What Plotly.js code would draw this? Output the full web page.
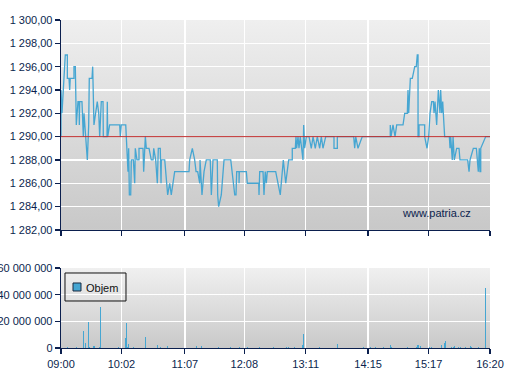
<!DOCTYPE html>
<html>
<head>
<meta charset="utf-8">
<script src="https://cdn.plot.ly/plotly-3.0.1.min.js"></script>
<style>
html,body{margin:0;padding:0;background:#fff;}
#chart{width:507px;height:380px;}
</style>
</head>
<body>
<div id="chart"></div>
<script>
// ---- data ----
// price: minutes after 09:00, trade price
var priceTime = [0,0,1.0,4.4,6.5,6.5,8.2,8.9,9.5,13.3,13.3,14.7,15.7,17.4,18.5,18.8,19.2,21.5,21.8,22.9,23.6,27.0,28.4,29.0,31.8,32.5,33.8,37.2,38.7,39.7,41.3,43.1,43.4,47.2,47.5,47.9,49.9,60.2,60.8,61.8,66.4,67.0,68.7,69.4,70.1,71.5,72.1,74.2,74.9,75.6,76.2,77.9,80.0,80.0,84.1,84.8,86.5,87.5,90.3,92.6,94.4,95.1,97.1,98.8,99.8,101.8,102.6,102.9,106.4,109.4,111.5,113.1,116.6,131.3,132.0,134.7,137.1,138.5,140.2,142.3,142.6,144.6,146.7,149.0,153.1,154.2,155.9,160.3,160.7,161.7,164.4,167.2,174.1,178.2,179.5,180.2,182.6,182.6,182.9,190.1,191.1,202.8,203.1,203.8,207.2,208.2,209.5,210.6,211.6,220.2,224.9,228.0,230.5,233.5,237.2,237.2,240.3,241.0,241.7,243.1,244.1,245.4,248.2,248.9,249.9,251.6,254.4,256.7,258.5,260.8,262.9,265.3,267.0,268.7,271.5,280.0,280.0,283.4,283.4,300.2,301.2,302.3,304.6,309.0,337.7,337.7,338.5,340.5,342.6,344.3,350.8,352.5,355.2,355.9,356.6,358.3,360.3,362.8,364.4,365.4,366.2,366.2,367.2,367.2,373.0,373.0,375.4,377.1,378.5,380.2,381.9,382.6,383.6,385.3,387.0,388.7,389.4,390.5,391.5,392.8,393.5,398.3,399.0,399.7,400.7,401.3,402.1,403.4,405.8,408.2,409.2,417.1,418.5,419.5,422.9,426.0,428.0,429.0,429.7,430.5,430.5,435.6,440.0];
var priceValue = [1290,1294,1292,1297,1297,1295,1295,1294,1295,1295,1296,1296,1291,1293,1293,1291,1293,1293,1292,1290,1292,1288,1291,1295,1295,1296,1291,1293,1292,1290,1293,1293,1290,1290,1293,1290,1291,1291,1290,1291,1291,1290,1287,1289,1285,1285,1288,1288,1286,1286,1289,1288,1288,1289,1289,1287,1290,1289,1289,1288,1288,1289,1288,1286,1289,1289,1286,1288,1288,1285,1286,1285,1287,1287,1288,1289,1288,1287,1287,1286,1288,1285,1287,1288,1288,1285,1288,1288,1285,1284,1285,1288,1288,1285,1285,1287,1287,1286,1287,1287,1286,1286,1285,1287,1287,1285,1287,1286,1287,1287,1285,1288,1286,1288,1288,1289,1289,1290,1289,1290,1289,1290,1288,1291,1289,1290,1290,1289,1290,1289,1290,1289,1290,1289,1290,1290,1289,1289,1290,1290,1289,1290,1289,1290,1290,1291,1290,1291,1290,1291,1291,1292,1292,1294,1292,1295,1295,1296,1296,1297,1297,1290,1290,1291,1291,1290,1289,1290,1292,1293,1293,1292,1293,1291,1294,1292,1294,1292,1293,1291,1290,1290,1289,1290,1288,1288,1290,1288,1289,1289,1288,1288,1287,1288,1289,1289,1287,1289,1287,1287,1289,1290,1290];
// volume: minutes after 09:00, traded volume
var volumeTime = [0,6.5,16.1,22.9,25.0,28.0,29.1,33.5,34.5,39.3,40.3,58.8,61.5,66.0,67.0,68.0,69.1,74.2,86.5,98.8,101.9,109.1,139.2,144.0,161.4,173.7,182.9,187.7,191.1,203.4,217.8,231.5,233.2,239.3,247.5,248.5,265.0,283.4,285.1,310.1,317.6,322.7,330.6,337.8,338.8,355.2,364.4,365.5,366.5,368.5,378.1,380.2,390.1,393.2,394.2,400.3,402.4,403.4,407.5,409.6,414.7,419.8,420.9,428.0,435.2];
var volumeValue = [500000,500000,500000,12900000,3800000,19700000,800000,1500000,1500000,500000,30400000,800000,800000,7600000,19000000,1000000,3000000,500000,8300000,2300000,800000,1500000,1500000,1500000,500000,500000,500000,800000,800000,500000,500000,500000,500000,500000,2300000,10600000,500000,3000000,800000,800000,500000,500000,500000,2300000,800000,500000,1000000,2300000,2300000,1500000,500000,500000,2300000,3800000,5300000,800000,1000000,1500000,800000,800000,800000,1500000,800000,500000,44800000];
var referencePrice = 1290;
var timeLabels = ['09:00','10:02','11:07','12:08','13:11','14:15','15:17','16:20'];
var priceTicks = [1282,1284,1286,1288,1290,1292,1294,1296,1298,1300];
var volumeTicks = [0,20000000,40000000,60000000];
var volumeName = 'Objem';
var sourceText = 'www.patria.cz';

// ---- helpers ----
function toMinutes(s){var p=s.split(':');return (parseInt(p[0],10)-9)*60+parseInt(p[1],10);}
var timeTicks = timeLabels.map(toMinutes);

function gradient(top,bottom){
  var svg="<svg xmlns='http://www.w3.org/2000/svg' width='10' height='100' preserveAspectRatio='none'><defs><linearGradient id='g' x1='0' y1='0' x2='0' y2='1'><stop offset='0' stop-color='"+top+"'/><stop offset='1' stop-color='"+bottom+"'/></linearGradient></defs><rect width='10' height='100' fill='url(#g)'/></svg>";
  return 'data:image/svg+xml;charset=utf-8,'+encodeURIComponent(svg);
}

var navy = '#0b1f4e';
var blue = '#46a6d2';
var fam = 'Liberation Sans, Arial, sans-serif';
var font = {family:fam, size:11, color:navy};

var traces = [
  {x:priceTime, y:priceValue, type:'scatter', mode:'lines', xaxis:'x', yaxis:'y',
   line:{color:blue, width:1.3}, showlegend:false, hoverinfo:'x+y'},
  {x:volumeTime, y:volumeValue, type:'bar', xaxis:'x2', yaxis:'y2', name:volumeName,
   width:0.9, marker:{color:blue, line:{width:0}}, showlegend:false}
];

var axisCommon = {
  showline:true, linecolor:navy, linewidth:1.3,
  ticks:'outside', ticklen:5, tickcolor:navy, tickwidth:1.3,
  showgrid:true, gridcolor:'#ffffff', gridwidth:1.5,
  zeroline:false, tickfont:font, automargin:false, fixedrange:true
};

// legend box geometry (paper fractions)
var lg = {x0:0.0093, x1:0.1515, y0:0.1433, y1:0.2287, sx0:0.028, sx1:0.0466, sy0:0.1738, sy1:0.1982, tx:0.0536, ty:0.184};

var layout = {
  width:507, height:380,
  margin:{l:61, r:17, t:20, b:32},
  paper_bgcolor:'#ffffff', plot_bgcolor:'rgba(0,0,0,0)',
  separators:', ',
  font:font,
  bargap:0,
  showlegend:false,
  xaxis: Object.assign({}, axisCommon, {anchor:'y', range:[0,440], tickvals:timeTicks, ticktext:timeLabels, showticklabels:false}),
  xaxis2: Object.assign({}, axisCommon, {anchor:'y2', matches:'x', range:[0,440], tickvals:timeTicks, ticktext:timeLabels}),
  yaxis: Object.assign({}, axisCommon, {domain:[0.36,1], range:[1282,1300], tickvals:priceTicks, tickformat:',.2f'}),
  yaxis2: Object.assign({}, axisCommon, {domain:[0,0.244], range:[0,60000000], tickvals:volumeTicks, tickformat:',d'}),
  shapes:[
    {type:'line', xref:'x domain', yref:'y', x0:0, x1:1, y0:referencePrice, y1:referencePrice,
     line:{color:'#c03030', width:1}, layer:'above'},
    {type:'rect', xref:'paper', yref:'paper', x0:lg.x0, x1:lg.x1, y0:lg.y0, y1:lg.y1,
     line:{color:'#111111', width:1}, fillcolor:'rgba(0,0,0,0)', layer:'above'},
    {type:'rect', xref:'paper', yref:'paper', x0:lg.sx0, x1:lg.sx1, y0:lg.sy0, y1:lg.sy1,
     line:{color:'#1a2a40', width:1}, fillcolor:blue, layer:'above'}
  ],
  images:[
    {source:gradient('#efefef','#c8c8c8'), xref:'x domain', yref:'y domain', x:0, y:1, sizex:1, sizey:1,
     xanchor:'left', yanchor:'top', sizing:'stretch', layer:'below'},
    {source:gradient('#f0f0f0','#c9c9c9'), xref:'x2 domain', yref:'y2 domain', x:0, y:1, sizex:1, sizey:1,
     xanchor:'left', yanchor:'top', sizing:'stretch', layer:'below'}
  ],
  annotations:[
    {text:sourceText, xref:'x domain', yref:'y domain', x:0.961, y:0.08, xanchor:'right', yanchor:'middle',
     showarrow:false, font:{family:fam, size:11, color:navy}},
    {text:volumeName, xref:'paper', yref:'paper', x:lg.tx, y:lg.ty, xanchor:'left', yanchor:'middle',
     showarrow:false, font:{family:fam, size:11, color:'#111111'}}
  ]
};

Plotly.newPlot('chart', traces, layout, {staticPlot:true, displayModeBar:false});
</script>
</body>
</html>
